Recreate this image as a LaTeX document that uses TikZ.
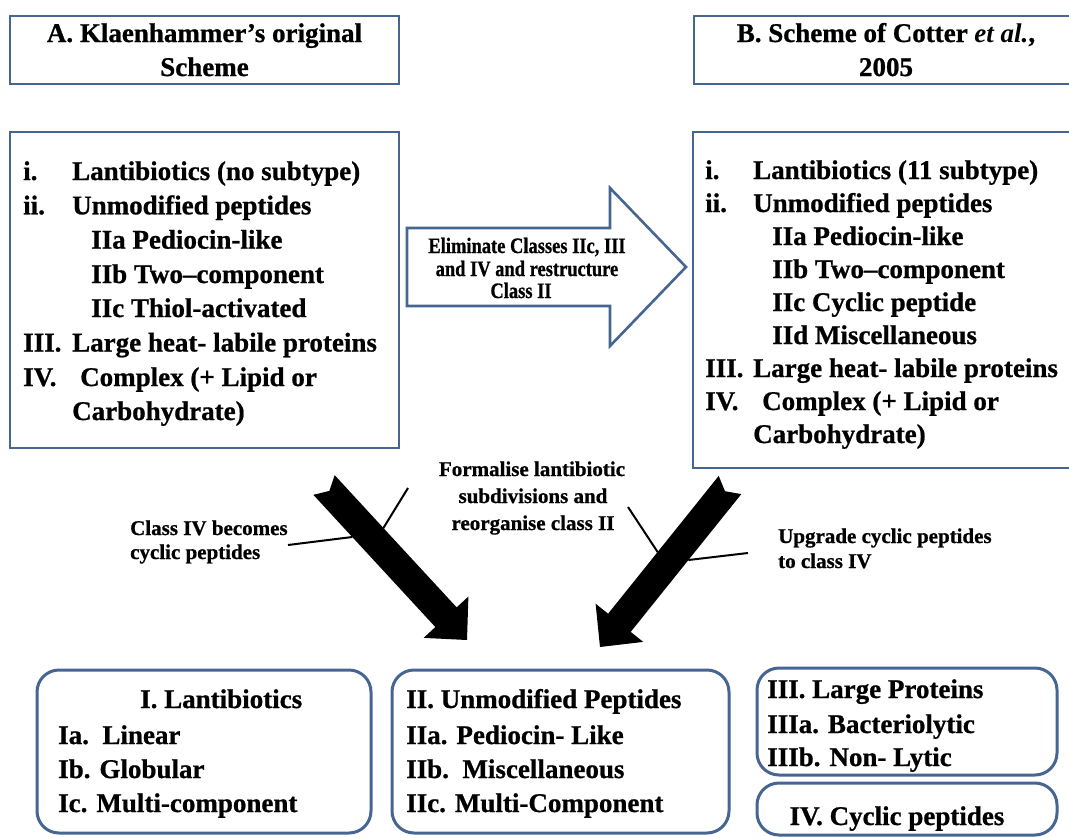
\documentclass[tikz,border=0pt]{standalone}
\usepackage{fontspec}
\setmainfont{Liberation Serif}[BoldFeatures={FakeBold=0.8}]
\newfontfamily\condfont{Liberation Serif}[FakeStretch=0.84,BoldFeatures={FakeBold=0.8}]
\definecolor{boxblue}{RGB}{70,102,145}
\begin{document}
\begin{tikzpicture}[x=1pt,y=-1pt,
  bx/.style={draw=boxblue, line width=2.6pt, fill=white, line join=miter},
  rbx/.style={draw=boxblue, line width=3pt, fill=white, rounded corners=22pt},
  big/.style={font=\fontsize{27}{34}\selectfont\bfseries, inner sep=0pt, anchor=base west},
  bigc/.style={big, anchor=base},
  lbl/.style={font=\fontsize{21}{26}\selectfont\bfseries, inner sep=0pt, anchor=base west},
  lblc/.style={lbl, anchor=base},
  arrtxt/.style={font=\condfont\fontsize{22}{22}\selectfont\bfseries, inner sep=0pt, anchor=base},
  callout/.style={draw=black, line width=2pt},
  bigarrow/.style={fill=black}]
\useasboundingbox (0,0) rectangle (1069,838);
\clip (0,0) rectangle (1069,838);
\fill[white] (0,0) rectangle (1069,838);

% ---- title boxes
\draw[bx] (10,16) rectangle (399,84);
\node[bigc] (tA1) at (204.5,42) {A. Klaenhammer’s original};
\node[bigc] (tA2) at (204.5,76) {Scheme};
\draw[bx] (694,16) rectangle (1085,84);
\node[bigc] (tB1) at (886,42) {B. Scheme of Cotter \textit{et al.},};
\node[bigc] (tB2) at (886,76) {2005};

% ---- box A
\draw[bx] (10,132) rectangle (399,448);
\node[big] (a1n) at (23,180) {i.};
\node[big] (a1) at (72,180) {Lantibiotics (no subtype)};
\node[big] (a2n) at (23,214.3) {ii.};
\node[big] (a2) at (72,214.3) {Unmodified peptides};
\node[big] (a3) at (91,248.6) {IIa Pediocin-like};
\node[big] (a4) at (91,283) {IIb Two–component};
\node[big] (a5) at (91,317) {IIc Thiol-activated};
\node[big] (a6n) at (23,351.5) {III.};
\node[big] (a6) at (72,351.5) {Large heat- labile proteins};
\node[big] (a7n) at (23,386) {IV.};
\node[big] (a7) at (80,386) {Complex (+ Lipid or};
\node[big] (a8) at (72,420) {Carbohydrate)};

% ---- box B
\draw[bx] (693,132) rectangle (1085,468);
\node[big] (b1n) at (705,179) {i.};
\node[big] (b1) at (753,179) {Lantibiotics (11 subtype)};
\node[big] (b2n) at (705,212) {ii.};
\node[big] (b2) at (753,212) {Unmodified peptides};
\node[big] (b3) at (772,245) {IIa Pediocin-like};
\node[big] (b4) at (772,278) {IIb Two–component};
\node[big] (b5) at (772,311) {IIc Cyclic peptide};
\node[big] (b6) at (772,344) {IId Miscellaneous};
\node[big] (b7n) at (705,377) {III.};
\node[big] (b7) at (753,377) {Large heat- labile proteins};
\node[big] (b8n) at (705,410) {IV.};
\node[big] (b8) at (762,410) {Complex (+ Lipid or};
\node[big] (b9) at (753,443) {Carbohydrate)};

% ---- block arrow A -> B
\draw[bx] (407,228) -- (610,228) -- (610,188) -- (686,267) -- (610,346) -- (610,306) -- (407,306) -- cycle;
\node[arrtxt] (e1) at (527,253) {Eliminate Classes IIc, III};
\node[arrtxt] (e2) at (527,276) {and IV and restructure};
\node[arrtxt] (e3) at (521,298) {Class II};

% ---- big black arrows
\fill[bigarrow] (334.65,475.17) -- (456.65,607.37) -- (468.4,596.5) -- (467,640)
  -- (423.6,637.9) -- (435.35,627.03) -- (313.35,494.83) -- (329.4,490.9) -- cycle;
\fill[bigarrow] (718.7,475.9) -- (608.1,613.7) -- (595.6,603.7) -- (600,647)
  -- (643.2,641.9) -- (630.7,631.9) -- (741.3,494.1) -- (725.0,491.2) -- cycle;

% ---- labels
\node[lbl] (l1a) at (130,535) {Class IV becomes};
\node[lbl] (l1b) at (130,559) {cyclic peptides};
\node[lblc] (f1) at (532,476) {Formalise lantibiotic};
\node[lblc] (f2) at (533,503) {subdivisions and};
\node[lblc] (f3) at (533,530) {reorganise class II};
\node[lbl] (u1) at (778,543) {Upgrade cyclic peptides};
\node[lbl] (u2) at (778,568) {to class IV};

% ---- callout lines
\coordinate (cL1s) at (288,545); \coordinate (cL1e) at (352.3,537);
\coordinate (cL2s) at (383.4,528); \coordinate (cL2e) at (408,488);
\coordinate (cR1s) at (628,507); \coordinate (cR1e) at (657.6,552);
\coordinate (cR2s) at (688.4,560); \coordinate (cR2e) at (748,553);
\draw[callout] (cL1s) -- (cL1e);
\draw[callout] (cL2s) -- (cL2e);
\draw[callout] (cR1s) -- (cR1e);
\draw[callout] (cR2s) -- (cR2e);

% ---- bottom boxes
\draw[rbx] (37,670) rectangle (371,833);
\node[big] (c1) at (140,708) {I. Lantibiotics};
\node[big] (c2) at (58,744) {Ia.\ \ Linear};
\node[big] (c3) at (58,778) {Ib. Globular};
\node[big] (c4) at (58,812) {Ic. Multi-component};

\draw[rbx] (392,670) rectangle (729,833);
\node[big] (d1) at (406,708) {II. Unmodified Peptides};
\node[big] (d2) at (406,744) {IIa. Pediocin- Like};
\node[big] (d3) at (406,778) {IIb.\ \ Miscellaneous};
\node[big] (d4) at (406,812) {IIc. Multi-Component};

\draw[rbx] (757,668) rectangle (1057,775);
\node[big] (g1) at (767,698) {III. Large Proteins};
\node[big] (g2) at (767,733) {IIIa. Bacteriolytic};
\node[big] (g3) at (767,766) {IIIb. Non- Lytic};

\draw[rbx] (757,783) rectangle (1057,835);
\node[bigc] (h1) at (897,825) {IV. Cyclic peptides};
\end{tikzpicture}
\end{document}
